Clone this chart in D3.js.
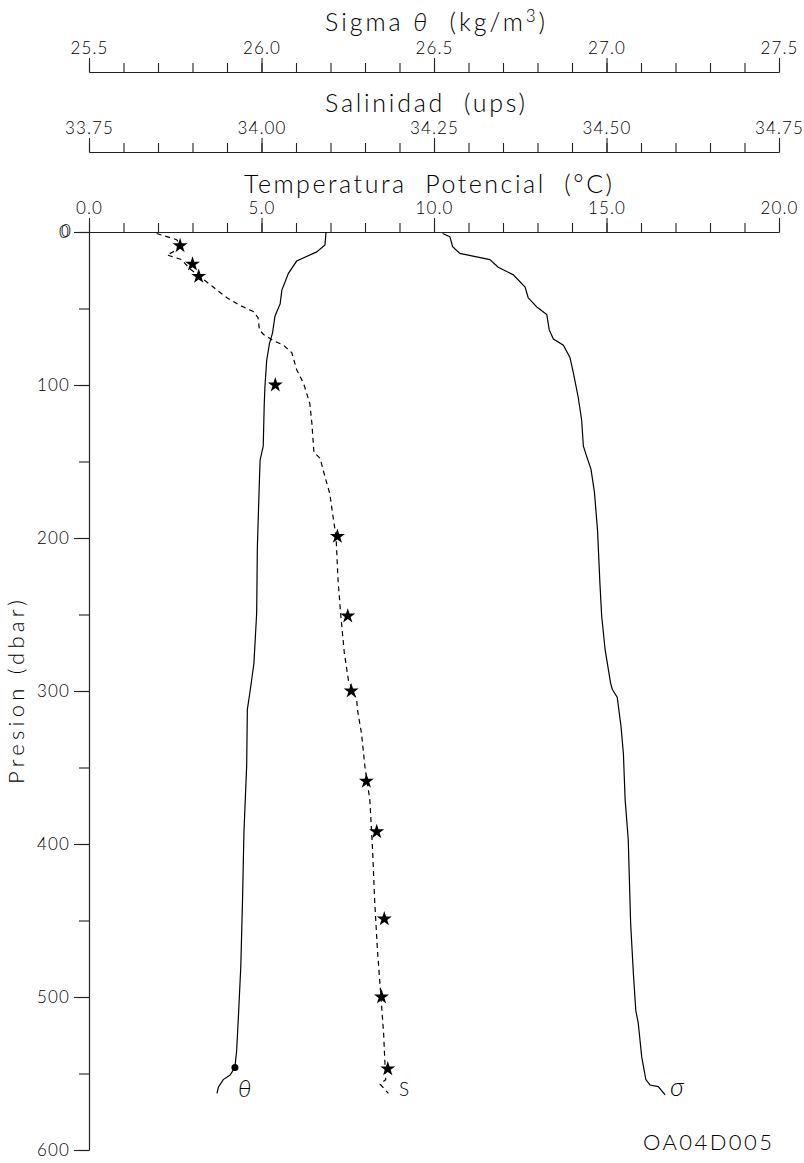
<!DOCTYPE html>
<html><head><meta charset="utf-8">
<script src="https://cdn.jsdelivr.net/npm/d3@7"></script>
<style>
html,body{margin:0;padding:0;background:#fff;}
svg{display:block;}
text{font-family:"Lato","Liberation Sans","DejaVu Sans",sans-serif;font-weight:300;fill:#000;}
</style></head><body>
<script>
// ---- Data ----
// Potential temperature profile (°C) vs pressure (dbar)
const thetaP = [0, 8.5, 13, 19, 27, 38, 47, 55, 66, 73, 84, 101, 112, 140, 149, 162, 206, 249, 282, 300, 312, 349, 393, 437, 480, 513, 535, 546, 551, 554, 559, 563];
const thetaV = [6.87, 6.84, 6.60, 6.02, 5.78, 5.59, 5.54, 5.39, 5.32, 5.23, 5.15, 5.10, 5.08, 5.05, 4.96, 4.94, 4.88, 4.86, 4.78, 4.67, 4.59, 4.57, 4.49, 4.45, 4.40, 4.33, 4.28, 4.23, 4.09, 3.89, 3.75, 3.71];
// Salinity profile (ups)
const salP = [1, 5, 8.5, 13, 15, 18, 24, 31, 36, 43, 48, 52, 56, 64, 67, 71, 74, 79, 90, 99, 112, 125, 144, 148, 160, 171, 184, 199, 228, 251, 275, 293, 306, 312, 328, 350, 371, 404, 437, 469, 524, 554, 557, 563];
const salV = [33.848, 33.877, 33.882, 33.872, 33.863, 33.884, 33.896, 33.916, 33.930, 33.950, 33.969, 33.988, 33.995, 33.997, 34.003, 34.017, 34.032, 34.044, 34.051, 34.061, 34.070, 34.073, 34.076, 34.085, 34.092, 34.099, 34.103, 34.108, 34.111, 34.115, 34.120, 34.126, 34.138, 34.139, 34.145, 34.150, 34.157, 34.161, 34.164, 34.168, 34.177, 34.180, 34.172, 34.184];
// Sigma-theta profile (kg/m3)
const sigP = [1, 3, 9.6, 14, 18, 23, 28, 36, 43, 49, 54, 64, 70, 74, 82, 92, 108, 123, 140, 147, 155, 170, 195, 230, 251, 273, 295, 299, 304, 323, 341, 371, 397, 452, 485, 509, 517, 539, 554, 557.5, 558.6, 564];
const sigV = [26.525, 26.546, 26.554, 26.575, 26.662, 26.686, 26.730, 26.764, 26.773, 26.798, 26.827, 26.834, 26.846, 26.875, 26.894, 26.904, 26.918, 26.928, 26.933, 26.943, 26.955, 26.965, 26.974, 26.981, 26.986, 26.996, 27.012, 27.017, 27.031, 27.042, 27.049, 27.054, 27.063, 27.070, 27.078, 27.085, 27.092, 27.102, 27.114, 27.126, 27.150, 27.170];
// Bottle salinity samples (stars)
const bottleP = [9, 21, 29, 100, 199, 251, 300, 359, 392, 449, 500, 547];
const bottleS = [33.882, 33.900, 33.909, 34.020, 34.110, 34.125, 34.130, 34.152, 34.167, 34.178, 34.174, 34.183];
// Bottle temperature sample (dot)
const bottleTP = [546];
const bottleT = [4.23];
// Axes
const tempTicks = [0, 5, 10, 15, 20];
const salTicks = [33.75, 34.00, 34.25, 34.50, 34.75];
const sigTicks = [25.5, 26.0, 26.5, 27.0, 27.5];
const presTicks = [0, 100, 200, 300, 400, 500, 600];
const stationId = "OA04D005";

// ---- Layout ----
const W = 804, H = 1163;
const L = 89, R = 779, T = 232, B = 1150;
const ySig = 72, ySal = 152, yTemp = 232;

const svg = d3.select("body").append("svg").attr("width", W).attr("height", H);

const x = d3.scaleLinear().domain([0, 20]).range([L, R]);
const xs = d3.scaleLinear().domain([33.75, 34.75]).range([L, R]);
const xg = d3.scaleLinear().domain([25.5, 27.5]).range([L, R]);
const y = d3.scaleLinear().domain([0, 600]).range([T, B]);

function topAxis(scale, ypos, major, fmt, minorStep, title, titleY, titleX0, titleX1) {
  const g = svg.append("g").attr("transform", `translate(0,${ypos})`);
  const [d0, d1] = scale.domain();
  const minor = d3.range(0, Math.round((d1 - d0) / minorStep) + 1).map(i => d0 + i * minorStep);
  const gm = g.append("g").call(d3.axisTop(scale).tickValues(minor).tickSize(9).tickSizeOuter(0).tickFormat(""));
  const gM = g.append("g").call(d3.axisTop(scale).tickValues(major).tickSize(14).tickSizeOuter(0).tickFormat(fmt).tickPadding(4));
  [gm, gM].forEach(a => {
    a.selectAll("path,line").attr("stroke", "#222").attr("stroke-width", 1.1);
    a.selectAll("text").attr("font-size", 17).attr("fill", "#000").attr("letter-spacing", 1.1)
      .attr("font-family", null);
  });
  svg.append("text").attr("x", titleX0).attr("y", titleY)
    .attr("font-size", 25).attr("textLength", titleX1 - titleX0).attr("lengthAdjust", "spacing").html(title);
}

topAxis(xg, ySig, sigTicks, d3.format(".1f"), 0.1, "Sigma <tspan font-style='italic'>θ</tspan>&#160;&#160;(kg/m<tspan dy='-9' font-size='17'>3</tspan><tspan dy='9'>)</tspan>", 31, 325, 545);
topAxis(xs, ySal, salTicks, d3.format(".2f"), 0.05, "Salinidad&#160;&#160;(ups)", 112, 325, 525);
topAxis(x, yTemp, tempTicks, d3.format(".1f"), 1, "Temperatura&#160;&#160;Potencial&#160;&#160;(°C)", 193, 244, 612);

// Left axis
const ga = svg.append("g").attr("transform", `translate(${L},0)`);
const minorP = d3.range(0, 601, 50);
ga.append("g").call(d3.axisLeft(y).tickValues(minorP).tickSize(10).tickSizeOuter(0).tickFormat(""));
ga.append("g").call(d3.axisLeft(y).tickValues(presTicks).tickSize(15).tickSizeOuter(0).tickPadding(4).tickFormat(d3.format("d")));
ga.selectAll("path,line").attr("stroke", "#222").attr("stroke-width", 1.1);
ga.selectAll("text").attr("font-size", 17).attr("letter-spacing", 1.1).attr("font-family", null);
// doubled zero at top
ga.append("text").attr("x", -17).attr("y", y(0)).attr("dy", "0.32em").attr("text-anchor", "end")
  .attr("font-size", 17).attr("letter-spacing", 1.1).text("0");

svg.append("text").attr("transform", `translate(24,${692}) rotate(-90)`)
  .attr("x", -92).attr("font-size", 22).attr("textLength", 184).attr("lengthAdjust", "spacing")
  .text("Presion (dbar)");

// Profiles
const line = d3.line().curve(d3.curveLinear);
svg.append("path").attr("d", line(thetaP.map((p, i) => [x(thetaV[i]), y(p)])))
  .attr("fill", "none").attr("stroke", "#000").attr("stroke-width", 1.2);
svg.append("path").attr("d", line(salP.map((p, i) => [xs(salV[i]), y(p)])))
  .attr("fill", "none").attr("stroke", "#000").attr("stroke-width", 1.2).attr("stroke-dasharray", "5,4");
svg.append("path").attr("d", line(sigP.map((p, i) => [xg(sigV[i]), y(p)])))
  .attr("fill", "none").attr("stroke", "#000").attr("stroke-width", 1.2);

// Bottle stars
svg.selectAll(".star").data(bottleP).enter().append("path")
  .attr("d", d3.symbol().type(d3.symbolStar).size(70))
  .attr("transform", (p, i) => `translate(${xs(bottleS[i])},${y(p)})`)
  .attr("fill", "#000");
svg.selectAll(".dot").data(bottleTP).enter().append("circle")
  .attr("cx", (p, i) => x(bottleT[i])).attr("cy", p => y(p)).attr("r", 3.5).attr("fill", "#000");

// Curve labels
svg.append("text").attr("x", 238).attr("y", 1097).attr("font-size", 24).attr("font-style", "italic").text("θ");
svg.append("text").attr("x", 399).attr("y", 1096).attr("font-size", 19).text("S");
svg.append("text").attr("x", 670).attr("y", 1096).attr("font-size", 26).attr("font-style", "italic").text("σ");

svg.append("text").attr("x", 643).attr("y", 1150).attr("font-size", 22)
  .attr("textLength", 129).attr("lengthAdjust", "spacing").text(stationId);
</script>
</body></html>
